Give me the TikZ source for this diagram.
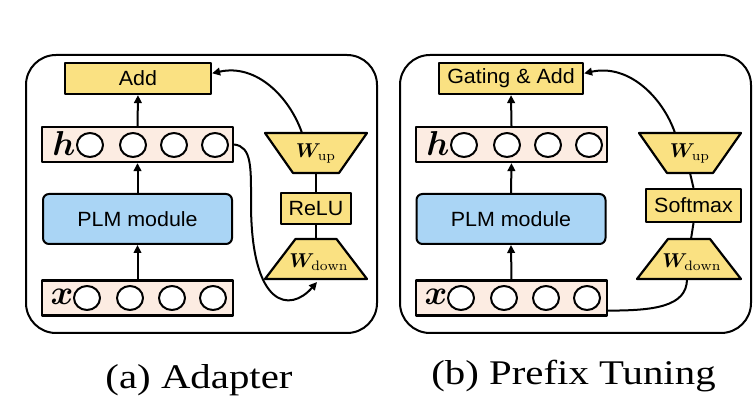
\documentclass[tikz,border=0pt]{standalone}
\usepackage{fontspec}
\usepackage{bm}
\usetikzlibrary{arrows.meta,calc,shapes.geometric}
\newfontfamily\boxfont[FakeStretch=1.04]{Liberation Sans}
\newfontfamily\capfont[FakeStretch=1.18]{Liberation Serif}
\definecolor{opyellow}{RGB}{250,225,130}
\definecolor{plmblue}{RGB}{170,213,245}
\definecolor{rowpeach}{RGB}{252,236,226}
\begin{document}
\begin{tikzpicture}[x=0.5pt,y=0.5pt,line join=round,>={Triangle[length=4pt,width=3.8pt]},
	panel/.style={draw,line width=1pt,rounded corners=15pt},
	opbox/.style={draw,fill=opyellow,line width=1.1pt,inner sep=0pt,minimum height=15.5pt,font=\boxfont\fontsize{10.3}{12}\selectfont},
	opshape/.style={draw,fill=opyellow,line width=1.1pt},
	rowbox/.style={draw,fill=rowpeach,line width=1.1pt,inner sep=0pt,minimum width=95.5pt,minimum height=17.5pt},
	plmbox/.style={draw,fill=plmblue,line width=1pt,rounded corners=3pt,minimum width=94.5pt,minimum height=25pt,font=\boxfont\fontsize{10.3}{12}\selectfont},
	neuron/.style={draw,fill=white,ellipse,line width=1pt,minimum width=13pt,minimum height=12pt,inner sep=0pt},
	vec/.style={font=\fontsize{17}{18}\selectfont},
	wlab/.style={font=\fontsize{9.8}{11}\selectfont},
	link/.style={line width=1pt},
	capt/.style={anchor=base,font=\capfont\fontsize{17.3}{19}\selectfont}]
	\useasboundingbox (0,0) rectangle (756,418);
	% (a) adapter
	\draw[panel] (26,85) rectangle (377,363);
	\node[opbox,minimum width=73pt] (adda) at (138,339.5) {Add};
	\node[rowbox] (hrowa) at (137.5,273.5) {};
	\node[vec] (ha) at (64,274) {$\bm{h}$};
	\foreach \cx in {90,133,174,215} \node[neuron] (ha-\cx) at (\cx,273) {};
	\node[plmbox] (plma) at (137.5,199) {PLM module};
	\node[rowbox] (xrowa) at (137.5,120) {};
	\node[vec] (xa) at (62,121) {$\bm{x}$};
	\foreach \cx in {87,130,172,213} \node[neuron] (xa-\cx) at (\cx,120) {};
	\coordinate (wupa) at (316,265);
	\draw[opshape] ($(wupa)+(-51,20)$) -- ($(wupa)+(51,20)$) -- ($(wupa)+(23,-20)$) -- ($(wupa)+(-23,-20)$) -- cycle;
	\node[wlab] (wupla) at (wupa) {$\bm{W}_{\mathrm{up}}$};
	\node[opbox,minimum width=35pt] (relua) at (316,209.5) {ReLU};
	\coordinate (wdowna) at (316,159);
	\draw[opshape] ($(wdowna)+(-20.5,20)$) -- ($(wdowna)+(20.5,20)$) -- ($(wdowna)+(51,-20)$) -- ($(wdowna)+(-51,-20)$) -- cycle;
	\node[wlab] (wdownla) at ($(wdowna)+(3,-3)$) {$\bm{W}_{\mathrm{down}}$};
	\draw[link,->] (xrowa.north) -- (plma.south);
	\draw[link,->] (plma.north) -- (hrowa.south);
	\draw[link,->] (hrowa.north) -- (adda.south);
	\draw[link] ($(wupa)+(0,-20)$) -- (relua.north);
	\draw[link] (relua.south) -- ($(wdowna)+(0,20)$);
	\draw[link,->] ($(wupa)+(-14,20)$) .. controls +(-12,35) and +(45,10) .. (adda.4);
	\draw[link,->] (hrowa.east) .. controls +(18,-2) and +(0,35) .. (251,215) .. controls +(0,-105) and +(-27,-31) .. ($(wdowna)+(1,-23)$);
	\node[capt] (capa) at (199,29) {(a) Adapter};
	% (b) prefix tuning
	\draw[panel] (400,85) rectangle (751,363);
	\node[opbox,minimum width=72pt] (gateb) at (511,339.5) {Gating \& Add};
	\node[rowbox] (hrowb) at (511.5,273.5) {};
	\node[vec] (hb) at (438,274) {$\bm{h}$};
	\foreach \cx in {464,507,548,589} \node[neuron] (hb-\cx) at (\cx,273) {};
	\node[plmbox] (plmb) at (511,199) {PLM module};
	\node[rowbox] (xrowb) at (511.5,120) {};
	\node[vec] (xb) at (436,121) {$\bm{x}$};
	\foreach \cx in {461,504,546,587} \node[neuron] (xb-\cx) at (\cx,120) {};
	\coordinate (wupb) at (690,265);
	\draw[opshape] ($(wupb)+(-51,20)$) -- ($(wupb)+(51,20)$) -- ($(wupb)+(23,-20)$) -- ($(wupb)+(-23,-20)$) -- cycle;
	\node[wlab] (wuplb) at (wupb) {$\bm{W}_{\mathrm{up}}$};
	\node[opbox,minimum width=47.5pt,minimum height=16.5pt] (softb) at (693.5,212.5) {Softmax};
	\coordinate (wdownb) at (689,159);
	\draw[opshape] ($(wdownb)+(-21,20)$) -- ($(wdownb)+(21,20)$) -- ($(wdownb)+(52,-20)$) -- ($(wdownb)+(-52,-20)$) -- cycle;
	\node[wlab] (wdownlb) at ($(wdownb)+(3,-3)$) {$\bm{W}_{\mathrm{down}}$};
	\draw[link,->] (xrowb.north) -- (plmb.south);
	\draw[link,->] (plmb.north) -- (hrowb.south);
	\draw[link,->] (hrowb.north) -- (gateb.south);
	\draw[link] ($(wupb)+(0,-20)$) -- (softb.north);
	\draw[link] (softb.south) -- ($(wdownb)+(2,20)$);
	\draw[link,->] ($(wupb)+(-15,20)$) .. controls +(-12,35) and +(45,10) .. (gateb.4);
	\draw[link] ($(xrowb.south east)+(0,6)$) .. controls +(45,0) and +(0,-28) .. ($(wdownb)+(-2,-20)$);
	\node[capt] (capb) at (573.5,33) {(b) Prefix Tuning};
\end{tikzpicture}
\end{document}
